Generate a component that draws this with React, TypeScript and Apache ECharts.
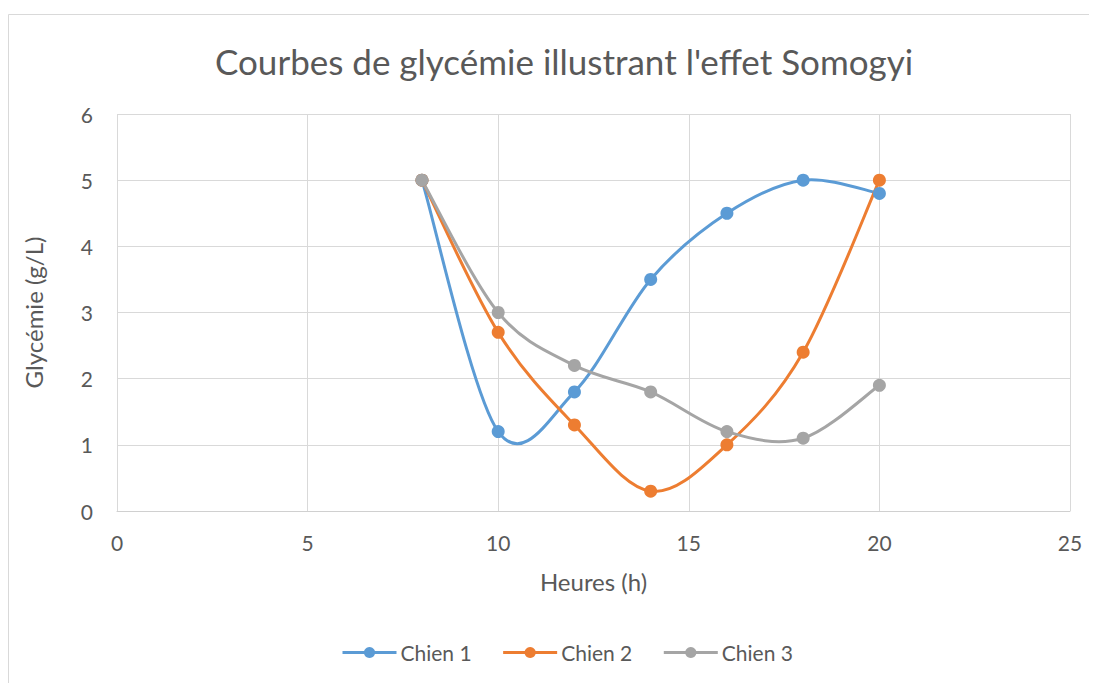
import React, { useEffect, useRef } from "react";
import * as echarts from "echarts";

const hours = [8, 10, 12, 14, 16, 18, 20];
const chien1 = [5, 1.2, 1.8, 3.5, 4.5, 5, 4.8];
const chien2 = [5, 2.7, 1.3, 0.3, 1, 2.4, 5];
const chien3 = [5, 3, 2.2, 1.8, 1.2, 1.1, 1.9];
const seriesNames = ["Chien 1", "Chien 2", "Chien 3"];
const seriesValues = [chien1, chien2, chien3];
const colors = ["#5B9BD5", "#ED7D31", "#A5A5A5"];

const FONT = "Lato, 'Open Sans', sans-serif";
const TXT = "#595959";

function smoothSeries(idx: number) {
  const vals = seriesValues[idx];
  const color = colors[idx];
  return {
    name: seriesNames[idx] + " (courbe)",
    type: "custom",
    z: 2,
    silent: true,
    data: hours.map((h, j) => [h, vals[j]]),
    encode: { x: 0, y: 1 },
    renderItem: (params: any, api: any) => {
      const i = params.dataIndex;
      const n = hours.length;
      if (i >= n - 1) return null;
      const pts = hours.map((h, j) => api.coord([h, vals[j]]));
      const p0 = pts[Math.max(i - 1, 0)];
      const p1 = pts[i];
      const p2 = pts[i + 1];
      const p3 = pts[Math.min(i + 2, n - 1)];
      return {
        type: "bezierCurve",
        shape: {
          x1: p1[0],
          y1: p1[1],
          x2: p2[0],
          y2: p2[1],
          cpx1: p1[0] + (p2[0] - p0[0]) / 6,
          cpy1: p1[1] + (p2[1] - p0[1]) / 6,
          cpx2: p2[0] - (p3[0] - p1[0]) / 6,
          cpy2: p2[1] - (p3[1] - p1[1]) / 6,
        },
        style: { stroke: color, lineWidth: 3, fill: "none", lineCap: "round" },
      };
    },
  };
}

export default function App() {
  const ref = useRef<HTMLDivElement>(null);
  useEffect(() => {
    if (!ref.current) return;
    const chart = echarts.init(ref.current, undefined, { renderer: "svg" });
    chart.setOption({
      animation: false,
      backgroundColor: "#ffffff",
      graphic: [
        {
          type: "rect",
          shape: { x: 0.5, y: 6.5, width: 1200, height: 800 },
          style: { fill: "none", stroke: "#d9d9d9", lineWidth: 1 },
          silent: true,
        },
      ],
      title: {
        text: "Courbes de glycémie illustrant l'effet Somogyi",
        left: 202,
        top: 30,
        textStyle: { fontFamily: FONT, fontSize: 35, fontWeight: "normal", color: TXT },
      },
      legend: {
        bottom: 15,
        left: 328,
        itemWidth: 54,
        itemHeight: 14,
        itemGap: 30,
        lineStyle: { width: 3, opacity: 1 },
        textStyle: { fontFamily: FONT, fontSize: 21, color: TXT, padding: [0, 0, 0, -1] },
        data: seriesNames,
      },
      grid: { left: 109, right: 27, top: 106, bottom: 172 },
      xAxis: {
        type: "value",
        min: 0,
        max: 25,
        interval: 5,
        name: "Heures (h)",
        nameLocation: "middle",
        nameGap: 58,
        nameTextStyle: { fontFamily: FONT, fontSize: 24, color: TXT },
        axisLine: { show: true, lineStyle: { color: "#d0d0d0", width: 1 } },
        axisTick: { show: false },
        axisLabel: { fontFamily: FONT, fontSize: 21, color: TXT, margin: 21 },
        splitLine: { show: true, lineStyle: { color: "#d9d9d9", width: 1 } },
      },
      yAxis: {
        type: "value",
        min: 0,
        max: 6,
        interval: 1,
        name: "Glycémie (g/L)",
        nameLocation: "middle",
        nameGap: 72,
        nameTextStyle: { fontFamily: FONT, fontSize: 24, color: TXT },
        axisLine: { show: false },
        axisTick: { show: false },
        axisLabel: { fontFamily: FONT, fontSize: 21, color: TXT, margin: 24 },
        splitLine: { show: true, lineStyle: { color: "#d9d9d9", width: 1 } },
      },
      series: [
        ...seriesNames.map((_, i) => smoothSeries(i)),
        ...seriesNames.map((name, i) => ({
          name,
          type: "line",
          z: 3,
          symbol: "circle",
          symbolSize: 13,
          showSymbol: true,
          color: colors[i],
          lineStyle: { width: 3, color: colors[i], opacity: 0 },
          itemStyle: { color: colors[i] },
          data: hours.map((h, j) => [h, seriesValues[i][j]]),
        })),
      ],
    });
    return () => chart.dispose();
  }, []);
  return <div ref={ref} style={{ width: 1089, height: 675 }} />;
}
